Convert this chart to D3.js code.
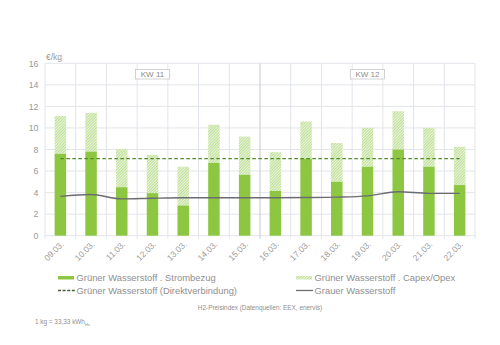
<!DOCTYPE html>
<html>
<head>
<meta charset="utf-8">
<script src="https://cdn.jsdelivr.net/npm/d3@7"></script>
<style>
  html, body { margin: 0; padding: 0; background: #fff; }
  svg { display: block; font-family: "Liberation Sans", Arial, sans-serif; }
</style>
</head>
<body>
<svg id="chart" width="500" height="345"></svg>
<script>
// Days of weeks 11 and 12
const days = ["09.03.", "10.03.", "11.03.", "12.03.", "13.03.", "14.03.", "15.03.",
              "16.03.", "17.03.", "18.03.", "19.03.", "20.03.", "21.03.", "22.03."];
// Green hydrogen: electricity cost part (€/kg)
const strombezug = [7.6, 7.8, 4.5, 3.95, 2.8, 6.75, 5.65, 4.15, 7.15, 5.0, 6.4, 8.0, 6.4, 4.7];
// Green hydrogen: total incl. Capex/Opex (€/kg)
const gesamt = [11.1, 11.4, 8.05, 7.5, 6.4, 10.3, 9.2, 7.75, 10.6, 8.6, 10.0, 11.55, 10.0, 8.25];
// Green hydrogen, direct connection (€/kg)
const direkt = [7.15, 7.15, 7.15, 7.15, 7.15, 7.15, 7.15, 7.15, 7.15, 7.15, 7.15, 7.15, 7.15, 7.15];
// Grey hydrogen (€/kg)
const grau = [3.65, 3.82, 3.42, 3.48, 3.52, 3.52, 3.52, 3.52, 3.54, 3.58, 3.7, 4.08, 3.93, 3.93];
// Calendar weeks
const weeks = [{ label: "KW 11", from: 0, to: 6 }, { label: "KW 12", from: 7, to: 13 }];
const yTicks = [0, 2, 4, 6, 8, 10, 12, 14, 16];

const svg = d3.select("#chart");
const plotL = 45, plotR = 475, plotT = 63.3, plotB = 235.7;

const x = d3.scaleBand().domain(days).range([plotL, plotR]).paddingInner(0).paddingOuter(0);
const y = d3.scaleLinear().domain([0, 16]).range([plotB, plotT]);

const green = "#8dc741";
const textCol = "#9a9a9a";
const gridCol = "#e3e5ec";

// fine hatch pattern for the Capex/Opex part
const defs = svg.append("defs");
const pat = defs.append("pattern")
  .attr("id", "hatch").attr("patternUnits", "userSpaceOnUse")
  .attr("width", 2).attr("height", 2).attr("patternTransform", "rotate(45)");
pat.append("rect").attr("width", 2).attr("height", 2).attr("fill", "#ebf5df");
pat.append("rect").attr("width", 1).attr("height", 2).attr("fill", "#bcdf93");

// horizontal grid
svg.append("g").selectAll("line").data(yTicks).join("line")
  .attr("x1", plotL).attr("x2", plotR)
  .attr("y1", d => y(d)).attr("y2", d => y(d))
  .attr("stroke", gridCol).attr("stroke-width", 1);

// vertical grid at category boundaries
const bounds = days.map(d => x(d)).concat([plotR]);
svg.append("g").selectAll("line").data(bounds).join("line")
  .attr("x1", d => d).attr("x2", d => d)
  .attr("y1", plotT).attr("y2", plotB + 3)
  .attr("stroke", (d, i) => i === 7 ? "#c6c8ce" : gridCol)
  .attr("stroke-width", 1);

// y axis labels
const yAxis = d3.axisLeft(y).tickValues(yTicks).tickSize(0).tickPadding(0);
svg.append("g").attr("transform", `translate(${plotL - 6.5},0)`).call(yAxis)
  .call(g => g.select(".domain").remove())
  .call(g => g.selectAll("text").attr("fill", textCol).attr("font-size", 8.8)
    .attr("font-family", "Liberation Sans, Arial, sans-serif"));

svg.append("text").attr("x", plotL + 1).attr("y", plotT - 3)
  .attr("fill", textCol).attr("font-size", 8.5).text("€/kg");

// x axis labels, rotated
const xAxis = d3.axisBottom(x).tickSize(0).tickPadding(0);
svg.append("g").attr("transform", `translate(0,${plotB})`).call(xAxis)
  .call(g => g.select(".domain").remove())
  .call(g => g.selectAll("text")
    .attr("fill", textCol).attr("font-size", 8.5)
    .attr("font-family", "Liberation Sans, Arial, sans-serif")
    .attr("text-anchor", "end").attr("dy", 0)
    .attr("transform", "translate(4,9) rotate(-45)"));

// week boxes
weeks.forEach(w => {
  const cx = (x(days[w.from]) + x(days[w.to]) + x.bandwidth()) / 2;
  const g = svg.append("g");
  g.append("rect").attr("x", cx - 17).attr("y", 69.5).attr("width", 34).attr("height", 9.5)
    .attr("fill", "#fff").attr("stroke", "#c8c8c8").attr("stroke-width", 0.8);
  g.append("text").attr("x", cx).attr("y", 77.3).attr("text-anchor", "middle")
    .attr("fill", "#8a8a8a").attr("font-size", 8).text(w.label);
});

const bw = 11.5;
const bx = d => x(d) + x.bandwidth() / 2 - bw / 2;

// Capex/Opex part (hatched)
svg.append("g").selectAll("rect").data(days).join("rect")
  .attr("x", d => bx(d)).attr("width", bw)
  .attr("y", (d, i) => y(gesamt[i]))
  .attr("height", (d, i) => y(strombezug[i]) - y(gesamt[i]))
  .attr("fill", "url(#hatch)");

// electricity part (solid)
svg.append("g").selectAll("rect").data(days).join("rect")
  .attr("x", d => bx(d)).attr("width", bw)
  .attr("y", (d, i) => y(strombezug[i]))
  .attr("height", (d, i) => y(0) - y(strombezug[i]))
  .attr("fill", green);

const cxOf = d => x(d) + x.bandwidth() / 2;

// grey hydrogen line
svg.append("path")
  .datum(days.map((d, i) => [cxOf(d), y(grau[i])]))
  .attr("d", d3.line().curve(d3.curveMonotoneX))
  .attr("fill", "none").attr("stroke", "#6b6b72").attr("stroke-width", 1.4);

// direct connection line (dashed)
svg.append("path")
  .datum(days.map((d, i) => [cxOf(d), y(direkt[i])]))
  .attr("d", d3.line())
  .attr("fill", "none").attr("stroke", "#4f8a2a").attr("stroke-width", 1.4)
  .attr("stroke-dasharray", "3.5,2.5");

// legend
const leg = svg.append("g").attr("font-size", 9.4).attr("fill", "#8f8f8f");
const items = [
  { x: 58, y: 278, label: "Grüner Wasserstoff . Strombezug", type: "solid" },
  { x: 296, y: 278, label: "Grüner Wasserstoff . Capex/Opex", type: "hatch" },
  { x: 58, y: 290.5, label: "Grüner Wasserstoff (Direktverbindung)", type: "dash" },
  { x: 296, y: 290.5, label: "Grauer Wasserstoff", type: "line" }
];
items.forEach(it => {
  if (it.type === "solid") {
    leg.append("rect").attr("x", it.x).attr("y", it.y - 2).attr("width", 16).attr("height", 3.5).attr("fill", green);
  } else if (it.type === "hatch") {
    leg.append("rect").attr("x", it.x).attr("y", it.y - 2).attr("width", 16).attr("height", 3.5).attr("fill", "url(#hatch)");
  } else if (it.type === "dash") {
    leg.append("line").attr("x1", it.x).attr("x2", it.x + 17).attr("y1", it.y).attr("y2", it.y)
      .attr("stroke", "#4a5a3a").attr("stroke-width", 1.3).attr("stroke-dasharray", "3,1.6");
  } else {
    leg.append("line").attr("x1", it.x).attr("x2", it.x + 17).attr("y1", it.y).attr("y2", it.y)
      .attr("stroke", "#6b6b72").attr("stroke-width", 1.3);
  }
  leg.append("text").attr("x", it.x + 18.5).attr("y", it.y + 3.3).text(it.label);
});

// source note
svg.append("text").attr("x", 260).attr("y", 309.5).attr("text-anchor", "middle")
  .attr("font-size", 6.4).attr("fill", "#8f8f8f")
  .text("H2-Preisindex (Datenquellen: EEX, enervis)");

// unit conversion
const conv = svg.append("text").attr("x", 35).attr("y", 324)
  .attr("font-size", 6.4).attr("fill", "#8f8f8f");
conv.append("tspan").text("1 kg = 33,33 kWh");
conv.append("tspan").attr("font-size", 4.2).attr("dy", 1.5).text("Hs");
</script>
</body>
</html>
